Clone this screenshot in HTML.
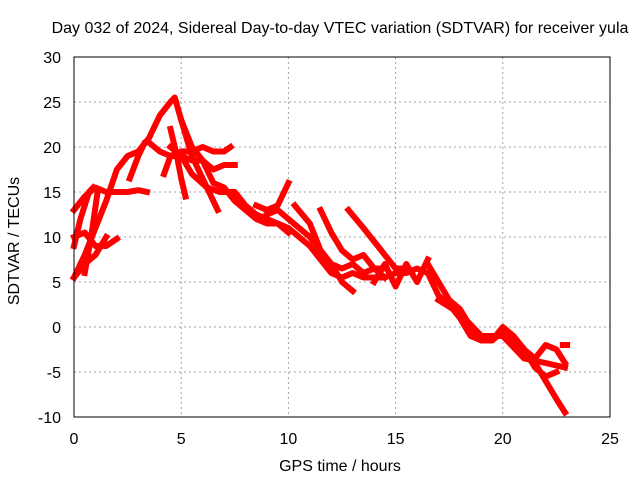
<!DOCTYPE html>
<html><head><meta charset="utf-8"><style>
body{margin:0;background:#fff}
svg{display:block;font-family:"Liberation Sans",sans-serif}
</style></head><body>
<svg id="chart" width="640" height="480">
<text x="340" y="33" font-size="16" text-anchor="middle">Day 032 of 2024, Sidereal Day-to-day VTEC variation (SDTVAR) for receiver yula</text>
<g id="grid"></g><g id="ticks"></g><g id="series"></g>
<rect x="74" y="57" width="536" height="360" fill="none" stroke="#000" stroke-width="1"/>
<text x="340" y="471" font-size="16" text-anchor="middle">GPS time / hours</text>
<text transform="translate(19,241) rotate(-90)" font-size="16" text-anchor="middle">SDTVAR / TECUs</text>
</svg>
<script>
const xTicks=[0,5,10,15,20,25];
const yTicks=[-10,-5,0,5,10,15,20,25,30];
const tracks=[
[[0,5.5],[0.5,8],[1,11],[1.5,14],[2,17.5],[2.5,19],[3,19.5],[3.5,21],[4,23.5],[4.5,25],[4.7,25.5],[5,23],[5.5,20],[6,18.5],[6.5,16],[7,15.5],[7.5,14],[8,13],[8.5,12],[9,11.5],[9.5,11.5],[10,11],[10.5,10],[11,9],[11.5,7.5],[12,6],[12.5,5.5],[13,6],[13.5,5.5],[14,5.5],[14.5,5.5],[15,6],[15.5,6],[16,6.5],[16.5,6],[17,3.5],[17.5,2.5],[18,1],[18.5,-1],[19,-1.5],[19.5,-1.5],[20,-0.5],[20.5,-1.5],[21,-3],[21.5,-4],[22,-6],[22.5,-8],[22.9,-9.5]],
[[0,13],[0.5,14.5],[1,15.5],[1.5,15],[2,15],[2.5,15],[3,15.2],[3.4,15]],
[[0,10],[0.5,10.5],[1,9],[1.5,9],[2,9.8]],
[[0,9],[0.3,12],[0.7,15],[0.9,15.5]],
[[0,5.5],[0.5,7],[1,8],[1.5,10]],
[[0.5,6],[0.8,10],[1.1,15]],
[[2.6,16.5],[3,19],[3.3,20.5],[3.5,20.5],[4,19.5],[4.5,19],[5,19.5],[5.5,19.5],[6,20],[6.5,19.5],[7,19.5],[7.3,20]],
[[4.2,17],[4.5,19],[5,19],[5.5,18.5],[6,18.5],[6.5,17.5],[7,18],[7.5,18]],
[[4.5,22],[4.8,19],[5,16.5],[5.2,14.5]],
[[5,23],[5.5,19],[6,16.5],[6.3,15],[6.7,13]],
[[4.5,20],[5,19],[5.5,17],[6.2,15.5],[6.8,15],[7.5,15],[8,13.5],[8.5,12.5],[9,12],[9.5,11.5],[10,10.5]],
[[8.5,13.5],[9,13],[9.5,13.5],[10,16]],
[[9,12.5],[9.5,13],[10,12],[10.5,11],[11,10],[11.5,8.5],[12,7],[12.5,6.5],[13,7],[13.5,6],[14,6.5],[14.5,6.5]],
[[10.3,13.5],[11,11.5],[11.5,8.5],[12,7],[12.5,5],[13,4]],
[[11.5,13],[12,10.5],[12.5,8.5],[13,7.5],[13.5,8],[14,6.5],[14.5,5.5]],
[[12.8,13],[13.5,11],[14,9.5],[14.5,8],[15,6.5],[15.5,6.5]],
[[14,5],[14.5,7],[15,4.5],[15.5,7],[16,5],[16.5,7.5]],
[[16.5,7],[17,5],[17.5,3],[18,2],[18.5,0],[19,-1.5],[19.5,-1.5],[20,0],[20.5,-1],[21,-2.5],[21.5,-3.5],[22,-2],[22.5,-2.5],[22.9,-4]],
[[17,3],[18,1.5],[19,-1],[20,-1],[21,-3.5],[22,-4],[22.9,-4.5]],
[[21,-2.5],[21.5,-4.5],[22,-5.5],[22.5,-5]],
[[22.8,-2],[23,-2]]
];
const NS="http://www.w3.org/2000/svg";
const X0=74,X1=610,Y0=417,Y1=57;
const xs=h=>X0+(h-0)/(25-0)*(X1-X0);
const ys=v=>Y0-(v+10)/(40)*(Y0-Y1);
const grid=document.getElementById('grid'),tk=document.getElementById('ticks'),ser=document.getElementById('series');
function mk(t,a,p){const e=document.createElementNS(NS,t);for(const k in a)e.setAttribute(k,a[k]);p.appendChild(e);return e;}
xTicks.forEach(t=>{
 const x=xs(t);
 if(t>0&&t<25){const l=mk('line',{x1:x,x2:x,y1:Y1,y2:Y0,stroke:'#a0a0a0','stroke-dasharray':'2,3'},grid);
 
 }
 const tt=mk('text',{x:x,y:444,'font-size':16,'text-anchor':'middle'},tk);tt.textContent=t;
 
 
});
yTicks.forEach(t=>{
 const y=ys(t);
 if(t>-10&&t<30){const l=mk('line',{x1:X0,x2:X1,y1:y,y2:y,stroke:'#a0a0a0','stroke-dasharray':'2,3'},grid);
 
 }
 const tt=mk('text',{x:61,y:y+6,'font-size':16,'text-anchor':'end'},tk);tt.textContent=t;
 
 
});
tracks.forEach(tr=>{
 const p=mk('polyline',{points:tr.map(d=>xs(d[0])+','+ys(d[1])).join(' '),fill:'none',stroke:'#ff0000','stroke-width':6,'stroke-linejoin':'round','stroke-linecap':'square'},ser);
 
 
});
</script>
</body></html>
